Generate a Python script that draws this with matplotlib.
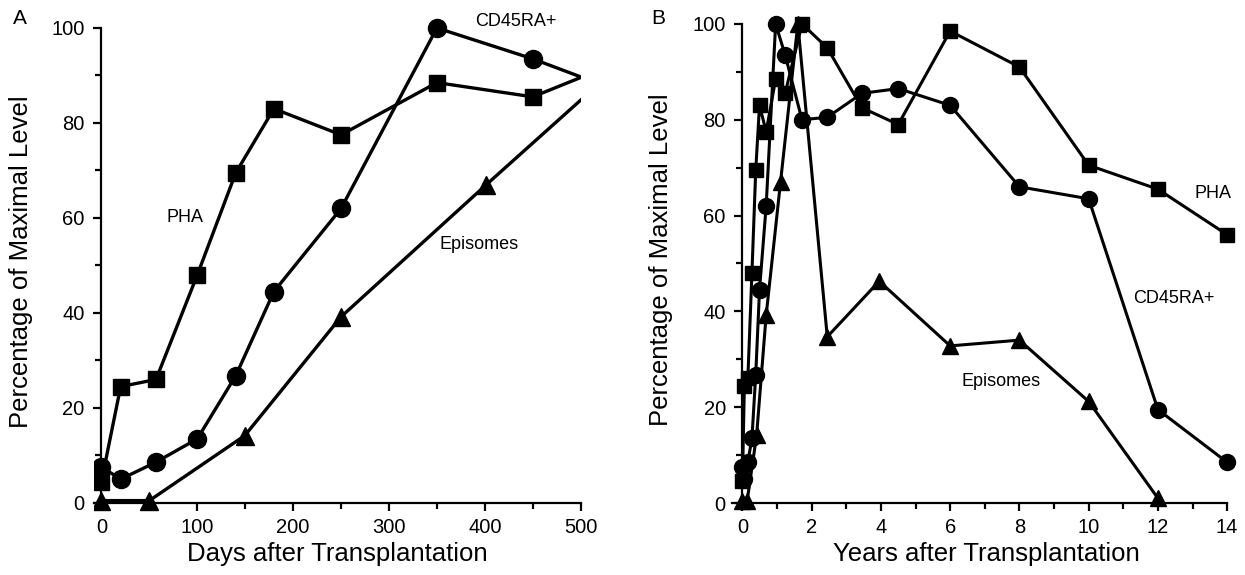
import matplotlib
matplotlib.use("Agg")
import numpy as np
import matplotlib.pyplot as plt
from matplotlib.ticker import MultipleLocator

plt.rcParams['font.family'] = ['Liberation Sans', 'DejaVu Sans']

# ------------ Data (time in years after transplantation) ---------------
pha_years = [0, 0.055, 0.156, 0.274, 0.384, 0.493, 0.685, 0.959, 1.233,
             1.72, 2.45, 3.45, 4.5, 6, 8, 10, 12, 14]
pha_pct = [4.5, 24.5, 26, 48, 69.5, 83, 77.5, 88.5, 85.5,
           100, 95, 82.5, 79, 98.5, 91, 70.5, 65.5, 56]

cd45_years = [0, 0.055, 0.156, 0.274, 0.384, 0.493, 0.685, 0.959, 1.233,
              1.72, 2.45, 3.45, 4.5, 6, 8, 10, 12, 14]
cd45_pct = [7.6, 5, 8.6, 13.5, 26.8, 44.5, 62, 100, 93.5,
            80, 80.5, 85.5, 86.5, 83, 66, 63.5, 19.5, 8.5]

epi_years = [0, 0.137, 0.41, 0.685, 1.1, 1.6, 2.45, 3.95, 6, 8, 10, 12]
epi_pct = [0.5, 0.5, 14.2, 39.2, 67, 100, 34.7, 46.3, 32.8, 34, 21.2, 1]

DAYS_PER_YEAR = 365

series = [
    (pha_years, pha_pct, 's'),
    (cd45_years, cd45_pct, 'o'),
    (epi_years, epi_pct, '^'),
]

fig = plt.figure(figsize=(12.45, 5.75), dpi=100)
axA = fig.add_axes([0.0753, 0.0922, 0.3911, 0.8922])
axB = fig.add_axes([0.5880, 0.0918, 0.4088, 0.9000])

msizeA = {'s': 11, 'o': 13, '^': 13}
msizeB = {'s': 10.5, 'o': 11.5, '^': 12}


def style_axis(ax, xlo, xhi, xmaj, xmin):
	ax.set_ylim(-4, 104)
	for s in ['top', 'right']:
		ax.spines[s].set_visible(False)
	ax.spines['left'].set_position(('data', 0))
	ax.spines['bottom'].set_position(('data', 0))
	ax.spines['left'].set_bounds(0, 100)
	ax.spines['bottom'].set_bounds(xlo, xhi)
	for s in ['left', 'bottom']:
		ax.spines[s].set_linewidth(1.6)
	ax.yaxis.set_major_locator(MultipleLocator(20))
	ax.yaxis.set_minor_locator(MultipleLocator(10))
	ax.xaxis.set_major_locator(MultipleLocator(xmaj))
	ax.xaxis.set_minor_locator(MultipleLocator(xmin))
	ax.tick_params(which='major', length=6, width=1.6, labelsize=14.5, direction='out')
	ax.tick_params(which='minor', length=4, width=1.6, direction='out')
	ax.tick_params(axis='y', pad=6)
	ax.tick_params(axis='x', pad=5)
	ax.set_ylabel('Percentage of Maximal Level', fontsize=18.5, va='center')


# ------------ Panel A (days) ---------------
for xs, ys, m in series:
	axA.plot(np.array(xs) * DAYS_PER_YEAR, ys, color='black', lw=2.4,
	         marker=m, markersize=msizeA[m], markerfacecolor='black',
	         markeredgecolor='black')
axA.set_xlim(-8, 500)
style_axis(axA, -8, 500, 100, 50)
axA.set_xticks([0, 100, 200, 300, 400, 500])
axA.set_xlabel('Days after Transplantation', fontsize=18.5, va='center')
axA.yaxis.set_label_coords(-0.1495, 0.507)
axA.xaxis.set_label_coords(0.5, -0.062)
axA.text(87, 60.2, 'PHA', fontsize=13, ha='center', va='center')
axA.text(432, 101.3, 'CD45RA+', fontsize=13, ha='center', va='center')
axA.text(394, 54.5, 'Episomes', fontsize=13, ha='center', va='center')

# ------------ Panel B (years) ---------------
for xs, ys, m in series:
	axB.plot(xs, ys, color='black', lw=2.2, marker=m, markersize=msizeB[m],
	         markerfacecolor='black', markeredgecolor='black', clip_on=False)
axB.set_xlim(-0.3, 14.4)
style_axis(axB, -0.3, 14, 2, 1)
axB.set_xlabel('Years after Transplantation', fontsize=18.5, va='center')
axB.yaxis.set_label_coords(-0.1397, 0.507)
axB.xaxis.set_label_coords(0.5, -0.062)
axB.text(13.6, 64.5, 'PHA', fontsize=13, ha='center', va='center')
axB.text(12.45, 42.6, 'CD45RA+', fontsize=13, ha='center', va='center')
axB.text(7.48, 25.3, 'Episomes', fontsize=13, ha='center', va='center')

fig.text(20 / 1245, 1 - 18 / 575, 'A', fontsize=15, ha='center', va='center')
fig.text(658 / 1245, 1 - 18 / 575, 'B', fontsize=15, ha='center', va='center')

fig.savefig('out.png', dpi=100)
